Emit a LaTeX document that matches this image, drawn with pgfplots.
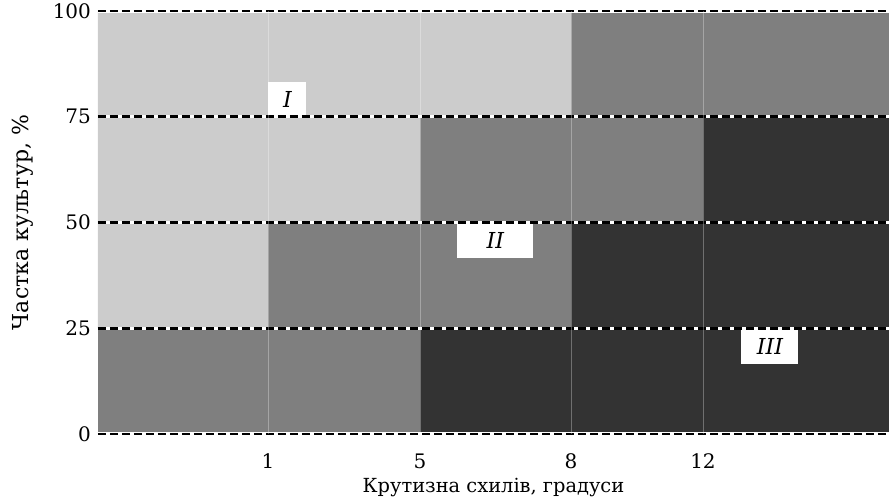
\documentclass[border=0pt]{standalone}
\usepackage{fontspec}
\setmainfont{DejaVu Serif}
\usepackage{pgfplots}
\pgfplotsset{compat=1.18}
\definecolor{lightc}{HTML}{CCCCCC}
\definecolor{midc}{HTML}{7F7F7F}
\definecolor{darkc}{HTML}{333333}

\begin{document}
\begin{tikzpicture}
\useasboundingbox (-49pt,-32pt) rectangle (395.5pt,217pt);
\begin{axis}[
  scale only axis, width=395.5pt, height=211.5pt,
  xmin=0, xmax=791, ymin=0, ymax=100,
  xtick={170,322,473,605}, xticklabels={1,5,8,12},
  ytick={0,25,50,75,100},
  major tick length=0pt,
  axis line style={draw=none},
  xmajorgrids, x grid style={white, opacity=0.3, line width=0.4pt},
  axis on top,
  clip=false,
  xticklabel style={yshift=-6.5pt},
  xlabel={Крутизна схилів, градуси},
  ylabel={Частка культур, \%},
  xlabel style={yshift=2.5pt, font=\fontsize{9.7}{12}\selectfont},
  ylabel style={yshift=3pt, font=\fontsize{11}{13}\selectfont},
  /pgf/number format/assume math mode=true,
]
% base: medium zone, then light (I) and dark (III) zones
\addplot[fill=midc, draw=none] coordinates {(0,0) (791,0) (791,100) (0,100)} -- cycle;
\addplot[fill=lightc, draw=none] coordinates {(0,25) (170,25) (170,50) (322,50) (322,75) (473,75) (473,100) (0,100)} -- cycle;
\addplot[fill=darkc, draw=none] coordinates {(322,0) (791,0) (791,75) (605,75) (605,50) (473,50) (473,25) (322,25)} -- cycle;

\node[fill=white, anchor=south west, minimum width=19pt, minimum height=17pt, inner sep=0pt, font=\itshape\fontsize{11}{13}\selectfont] at (axis cs:170,75) {I};
\node[fill=white, anchor=north west, minimum width=38pt, minimum height=17.5pt, inner sep=0pt, font=\itshape\fontsize{11}{13}\selectfont] at (axis cs:359,50) {II};
\node[fill=white, anchor=north west, minimum width=28.5pt, minimum height=17.5pt, inner sep=0pt, font=\itshape\fontsize{11}{13}\selectfont] at (axis cs:643,25) {III};

\pgfplotsinvokeforeach{0,25,50,75,100}{
  \addplot[white, line width=1.6pt] coordinates {(0,#1) (791,#1)};
  \addplot[black, line width=1.3pt, dash pattern=on 4pt off 2pt] coordinates {(0,#1) (791,#1)};
}
\end{axis}
\end{tikzpicture}
\end{document}
